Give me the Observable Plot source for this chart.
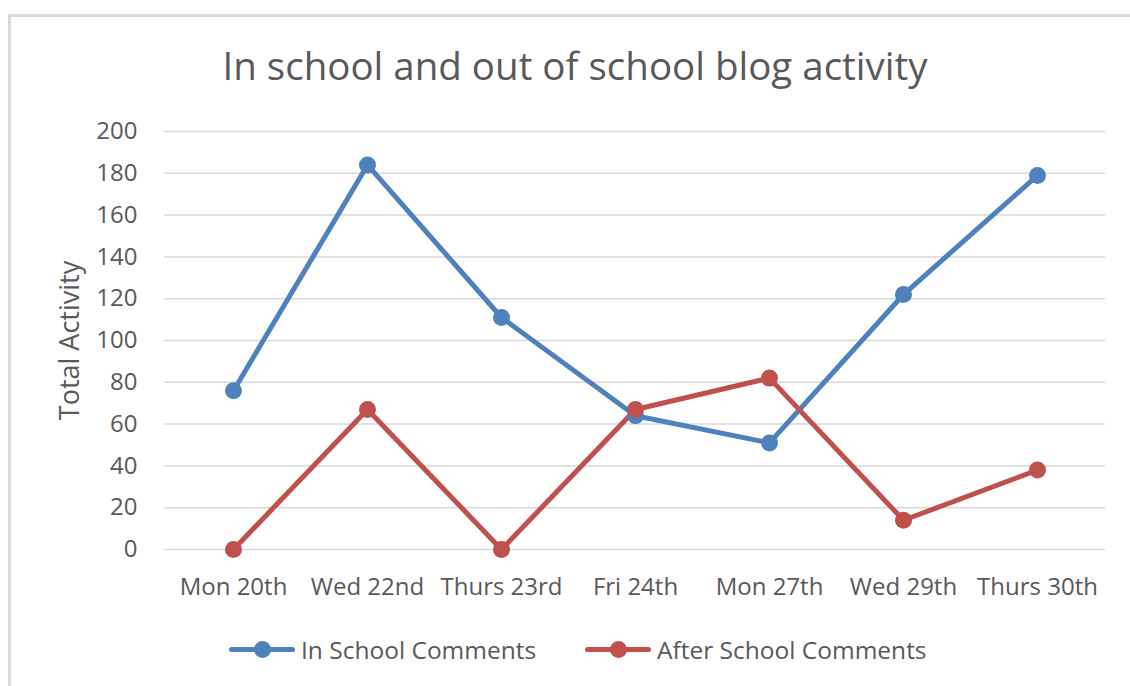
<!DOCTYPE html>
<html>
<head>
<meta charset="utf-8">
<script src="https://cdn.jsdelivr.net/npm/d3@7"></script>
<script src="https://cdn.jsdelivr.net/npm/@observablehq/plot@0.6"></script>
<style>
  body { margin: 0; background: #fff; width: 1130px; height: 686px; overflow: hidden; position: relative; font-family: "Open Sans", sans-serif; color: #595959; }
  #frame { position: absolute; left: 8px; top: 14px; width: 1140px; height: 700px; border-left: 3px solid #d9d9d9; border-top: 3px solid #d9d9d9; box-sizing: border-box; }
  #title { position: absolute; left: 0; width: 1150px; top: 39px; text-align: center; font-size: 38.5px; color: #595959; }
  #chart { position: absolute; left: 0; top: 110px; }
  #legend { position: absolute; top: 630px; left: 0; width: 1130px; height: 40px; font-size: 24.5px; color: #595959; }
  .item { position: absolute; top: 0; display: flex; align-items: center; height: 38px; }
  .sw { position: relative; width: 66px; height: 38px; margin-right: 6px; }
  .sw .ln { position: absolute; left: 0; right: 0; top: 17px; height: 5px; border-radius: 3px; }
  .sw .dt { position: absolute; left: 25px; top: 11px; width: 17px; height: 17px; border-radius: 50%; }
</style>
</head>
<body>
<div id="frame"></div>
<div id="title">In school and out of school blog activity</div>
<div id="chart"></div>
<div id="legend"></div>
<script>
const days = ["Mon 20th", "Wed 22nd", "Thurs 23rd", "Fri 24th", "Mon 27th", "Wed 29th", "Thurs 30th"];
const inSchool = [76, 184, 111, 64, 51, 122, 179];
const afterSchool = [0, 67, 0, 67, 82, 14, 38];
const seriesNames = ["In School Comments", "After School Comments"];
const seriesColors = ["#4F81BD", "#C0504D"];
const yTicks = [0, 20, 40, 60, 80, 100, 120, 140, 160, 180, 200];

const data = [];
days.forEach((d, i) => {
  data.push({day: d, value: inSchool[i], series: seriesNames[0]});
  data.push({day: d, value: afterSchool[i], series: seriesNames[1]});
});

const plot = Plot.plot({
  width: 1130,
  height: 509,
  marginLeft: 164,
  marginRight: 25,
  marginTop: 21,
  marginBottom: 70,
  style: {fontFamily: "Open Sans", fontSize: "24px", color: "#595959", background: "transparent", overflow: "visible"},
  x: {type: "point", domain: days, padding: 0.5},
  y: {domain: [0, 200]},
  color: {domain: seriesNames, range: seriesColors},
  marks: [
    Plot.gridY(yTicks, {stroke: "#d9d9d9", strokeOpacity: 1, strokeWidth: 1.5}),
    Plot.axisY(yTicks, {tickSize: 0, tickPadding: 27, fontSize: 24, label: null}),
    Plot.axisX({tickSize: 0, tickPadding: 28, fontSize: 24, label: null}),
    Plot.lineY(data, {x: "day", y: "value", z: "series", stroke: "series", strokeWidth: 5, strokeLinejoin: "round", strokeLinecap: "round"}),
    Plot.dot(data, {x: "day", y: "value", fill: "series", r: 8.5}),
    Plot.text(["Total Activity"], {frameAnchor: "left", dx: -94, dy: 0, rotate: -90, fontSize: 27, fill: "#595959", textAnchor: "middle"})
  ]
});
document.getElementById("chart").appendChild(plot);

const legend = document.getElementById("legend");
const lefts = [229, 585];
seriesNames.forEach((name, i) => {
  const item = document.createElement("div");
  item.className = "item";
  item.style.left = lefts[i] + "px";
  item.innerHTML = `<div class="sw"><div class="ln" style="background:${seriesColors[i]}"></div><div class="dt" style="background:${seriesColors[i]}"></div></div><span>${name}</span>`;
  legend.appendChild(item);
});
</script>
</body>
</html>
